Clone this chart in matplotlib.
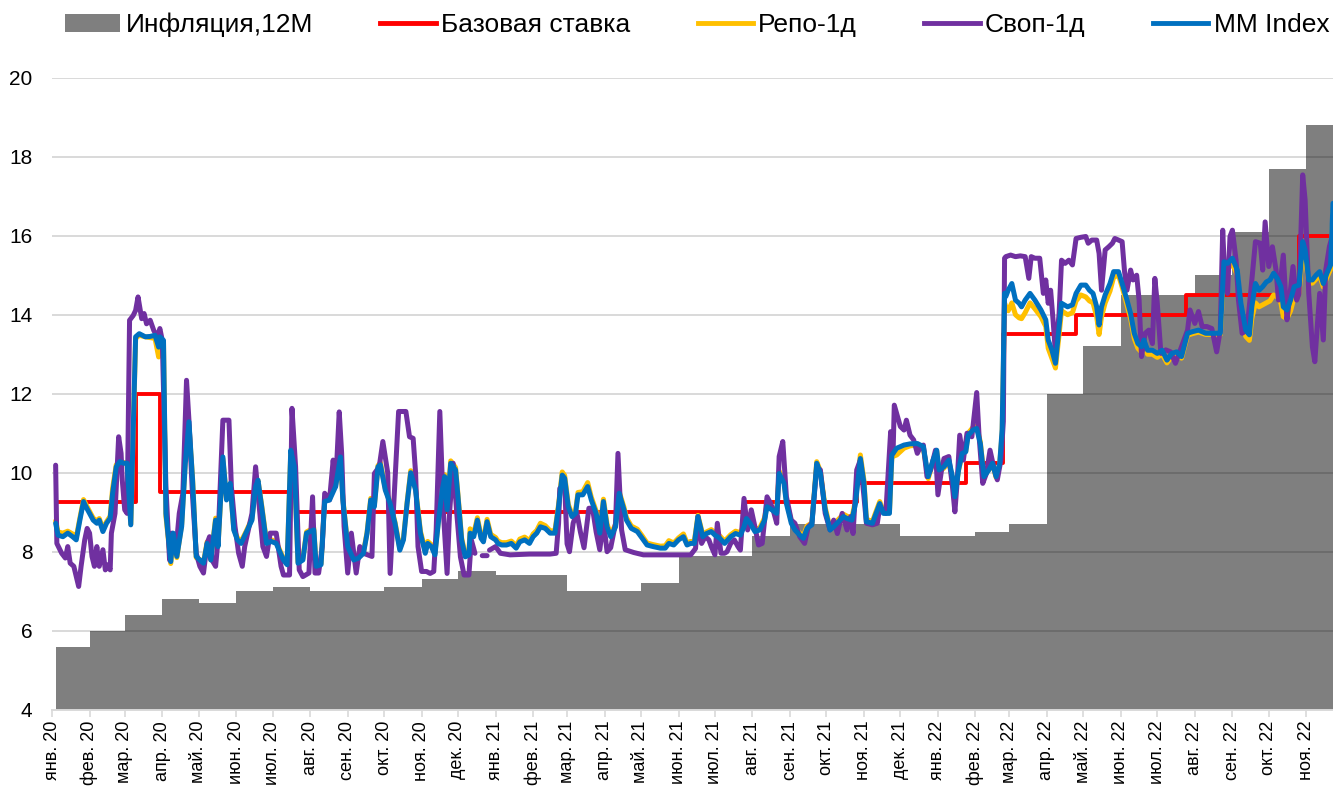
import numpy as np
import matplotlib
matplotlib.use("Agg")
import matplotlib.pyplot as plt
from matplotlib.patches import Patch
from matplotlib.lines import Line2D

plt.rcParams['font.family'] = ['Liberation Sans', 'DejaVu Sans']

# days are counted from 2020-01-01
START = np.datetime64('2020-01-01')
END_DAY = 1057

# inflation, 12M (step starts)
infl_start = ['2020-01-04', '2020-02-01', '2020-03-01', '2020-04-01', '2020-05-01', '2020-06-01',
              '2020-07-01', '2020-08-01', '2020-09-01', '2020-10-01', '2020-11-01', '2020-12-01',
              '2021-01-01', '2021-02-01', '2021-03-01', '2021-04-01', '2021-05-01', '2021-06-01',
              '2021-07-01', '2021-08-01', '2021-09-01', '2021-10-01', '2021-11-01', '2021-12-01',
              '2022-01-01', '2022-02-01', '2022-03-01', '2022-04-01', '2022-05-01', '2022-06-01',
              '2022-07-01', '2022-08-01', '2022-09-01', '2022-10-01', '2022-11-01']
infl_val = [5.6, 6.0, 6.4, 6.8, 6.7, 7.0, 7.1, 7.0, 7.0, 7.1, 7.3, 7.5,
            7.4, 7.4, 7.0, 7.0, 7.2, 7.9, 7.9, 8.4, 8.7, 8.7, 8.7, 8.4,
            8.4, 8.5, 8.7, 12.0, 13.2, 14.5, 14.5, 15.0, 16.1, 17.7, 18.8]

# base rate (step starts)
rate_start = ['2020-01-04', '2020-03-10', '2020-03-30', '2020-07-20', '2021-07-26',
              '2021-10-26', '2022-01-24', '2022-02-24', '2022-04-25', '2022-07-25', '2022-10-26']
rate_val = [9.25, 12.0, 9.5, 9.0, 9.25, 9.75, 10.25, 13.5, 14.0, 14.5, 16.0]

# MM Index and Repo-1d share the same days
mm_day = [3, 5, 9, 13, 17, 20, 23, 26, 28, 31,
          34, 37, 39, 42, 45, 48, 50, 53, 56, 59,
          62, 65, 69, 72, 77, 81, 85, 88, 89, 92,
          94, 98, 100, 103, 107, 110, 113, 116, 119, 122,
          125, 128, 131, 135, 137, 141, 144, 147, 150, 153,
          156, 160, 165, 168, 170, 173, 177, 181, 185, 191,
          194, 197, 200, 203, 207, 210, 216, 218, 222, 225,
          229, 234, 238, 240, 244, 249, 253, 257, 260, 263,
          266, 269, 271, 275, 279, 283, 287, 290, 293, 296,
          300, 304, 308, 310, 313, 316, 319, 322, 324, 326,
          329, 333, 335, 338, 341, 344, 345, 348, 351, 354,
          356, 359, 362, 366, 368, 371, 375, 379, 383, 386,
          390, 394, 397, 400, 403, 407, 411, 415, 418, 421,
          423, 426, 429, 432, 434, 438, 442, 445, 449, 452,
          455, 458, 461, 465, 468, 472, 474, 478, 483, 487,
          491, 496, 502, 506, 509, 513, 517, 521, 524, 527,
          530, 533, 537, 540, 544, 547, 551, 555, 560, 564,
          568, 571, 573, 576, 580, 584, 588, 590, 594, 598,
          600, 604, 606, 610, 613, 617, 620, 623, 627, 631,
          634, 638, 642, 645, 649, 653, 656, 660, 663, 667,
          670, 672, 677, 679, 683, 686, 691, 693, 697, 703,
          708, 714, 719, 723, 727, 730, 732, 736, 740, 743,
          745, 748, 751, 754, 756, 760, 763, 766, 769, 773,
          776, 779, 782, 784, 786, 787, 789, 792, 795, 798,
          800, 803, 807, 811, 816, 820, 822, 825, 828, 831,
          833, 838, 842, 845, 849, 853, 856, 859, 862, 864,
          866, 869, 873, 876, 880, 883, 887, 890, 893, 896,
          899, 901, 904, 908, 912, 916, 920, 924, 928, 932,
          937, 941, 946, 952, 957, 964, 967, 970, 974, 978,
          981, 985, 988, 990, 993, 996, 999, 1002, 1005, 1008,
          1011, 1014, 1016, 1019, 1022, 1025, 1029, 1032, 1034, 1037,
          1040, 1043, 1046, 1049, 1052, 1055, 1057]

mm_val = [8.72, 8.42, 8.38, 8.47, 8.38, 8.30, 8.80, 9.27, 9.14, 8.97,
          8.80, 8.72, 8.80, 8.51, 8.72, 8.85, 9.48, 10.15, 10.28, 10.24,
          10.24, 8.68, 13.44, 13.52, 13.44, 13.45, 13.48, 13.18, 13.44, 13.35,
          8.97, 7.75, 8.47, 7.88, 8.64, 10.24, 11.29, 9.81, 7.88, 7.79,
          7.71, 8.21, 7.79, 8.80, 8.13, 10.40, 9.31, 9.73, 8.55, 8.30,
          8.21, 8.47, 8.80, 9.65, 9.81, 9.14, 8.21, 8.26, 8.21, 7.79,
          7.67, 10.57, 10.15, 7.71, 7.79, 8.47, 8.55, 7.63, 7.67, 9.27,
          9.31, 9.65, 10.40, 9.31, 8.13, 7.79, 7.84, 7.96, 8.47, 9.31,
          9.14, 10.15, 10.20, 9.56, 9.22, 8.72, 8.04, 8.30, 9.22, 10.00,
          9.56, 8.47, 7.96, 8.21, 8.13, 7.92, 8.80, 9.56, 9.90, 9.06,
          10.24, 10.07, 9.39, 8.30, 7.87, 7.92, 8.47, 8.38, 8.80, 8.34,
          8.25, 8.76, 8.38, 8.30, 8.21, 8.17, 8.17, 8.21, 8.09, 8.25,
          8.30, 8.21, 8.38, 8.47, 8.63, 8.59, 8.47, 8.47, 9.14, 9.94,
          9.86, 9.14, 8.89, 8.97, 9.44, 9.44, 9.65, 9.31, 8.97, 8.47,
          9.27, 8.63, 8.38, 8.63, 9.48, 9.06, 8.80, 8.59, 8.51, 8.34,
          8.17, 8.13, 8.09, 8.09, 8.21, 8.17, 8.30, 8.38, 8.17, 8.21,
          8.21, 8.89, 8.38, 8.46, 8.51, 8.42, 8.34, 8.21, 8.38, 8.46,
          8.42, 8.63, 8.84, 8.72, 8.51, 8.55, 8.80, 9.14, 9.06, 8.97,
          9.98, 9.73, 9.22, 8.72, 8.55, 8.42, 8.34, 8.59, 8.68, 10.24,
          9.98, 9.06, 8.55, 8.63, 8.76, 8.89, 8.84, 8.80, 9.22, 10.36,
          9.73, 8.76, 8.72, 8.89, 9.22, 8.97, 8.97, 10.45, 10.62, 10.70,
          10.73, 10.74, 10.66, 9.90, 10.32, 10.57, 10.07, 10.15, 10.32, 9.90,
          9.39, 10.07, 10.49, 10.53, 10.95, 11.08, 11.12, 10.74, 9.90, 10.07,
          10.24, 9.90, 10.24, 11.10, 14.54, 14.46, 14.62, 14.79, 14.37, 14.29,
          14.20, 14.37, 14.54, 14.37, 14.12, 13.87, 13.36, 13.11, 12.77, 13.70,
          14.29, 14.20, 14.25, 14.54, 14.75, 14.75, 14.62, 14.54, 14.20, 13.74,
          14.20, 14.50, 14.79, 15.09, 15.09, 14.79, 14.37, 14.03, 13.53, 13.27,
          13.19, 13.36, 13.10, 13.10, 13.02, 13.10, 12.85, 13.02, 13.06, 12.94,
          13.53, 13.57, 13.61, 13.53, 13.53, 13.53, 15.34, 15.30, 15.43, 15.13,
          14.29, 13.61, 13.49, 14.20, 14.79, 14.62, 14.71, 14.83, 14.88, 15.05,
          14.92, 14.71, 14.20, 14.12, 14.37, 14.71, 14.75, 15.85, 15.64, 14.88,
          14.88, 15.00, 15.09, 14.79, 15.05, 15.26, 16.82]

repo_val = [8.78, 8.50, 8.47, 8.52, 8.45, 8.36, 8.85, 9.32, 9.20, 9.02,
            8.85, 8.78, 8.84, 8.58, 8.76, 8.90, 9.60, 10.20, 10.30, 10.26,
            10.24, 8.70, 13.40, 13.48, 13.44, 13.42, 13.40, 12.93, 13.30, 13.30,
            8.90, 7.70, 8.45, 7.85, 8.70, 10.30, 11.20, 9.85, 7.85, 7.80,
            7.72, 8.25, 7.80, 8.85, 8.15, 10.35, 9.35, 9.70, 8.58, 8.35,
            8.26, 8.50, 8.84, 9.68, 9.80, 9.18, 8.26, 8.30, 8.25, 7.82,
            7.70, 10.50, 10.12, 7.74, 7.82, 8.50, 8.60, 7.66, 7.70, 9.30,
            9.35, 9.70, 10.35, 9.35, 8.16, 7.82, 7.86, 7.98, 8.50, 9.35,
            9.18, 10.18, 10.25, 9.60, 9.25, 8.75, 8.08, 8.34, 9.25, 10.05,
            9.60, 8.52, 8.02, 8.26, 8.18, 7.97, 8.84, 9.60, 9.95, 9.10,
            10.30, 10.13, 9.44, 8.35, 7.92, 7.97, 8.58, 8.46, 8.86, 8.40,
            8.30, 8.82, 8.44, 8.36, 8.27, 8.23, 8.23, 8.27, 8.15, 8.32,
            8.37, 8.28, 8.45, 8.54, 8.72, 8.66, 8.53, 8.53, 9.20, 10.02,
            9.93, 9.20, 8.95, 9.03, 9.50, 9.52, 9.75, 9.38, 9.03, 8.53,
            9.33, 8.70, 8.44, 8.69, 9.52, 9.12, 8.86, 8.65, 8.57, 8.40,
            8.22, 8.18, 8.14, 8.15, 8.28, 8.22, 8.35, 8.45, 8.22, 8.26,
            8.26, 8.92, 8.43, 8.50, 8.56, 8.47, 8.40, 8.27, 8.43, 8.52,
            8.48, 8.68, 8.89, 8.78, 8.57, 8.60, 8.86, 9.20, 9.12, 9.03,
            10.04, 9.78, 9.28, 8.78, 8.60, 8.47, 8.40, 8.65, 8.73, 10.28,
            10.04, 9.12, 8.60, 8.68, 8.82, 8.95, 8.90, 8.86, 9.30, 10.45,
            9.80, 8.82, 8.77, 8.94, 9.27, 9.02, 9.00, 10.40, 10.45, 10.62,
            10.68, 10.70, 10.62, 9.85, 10.30, 10.55, 10.02, 10.12, 10.28, 9.85,
            9.35, 10.05, 10.47, 10.55, 11.00, 11.15, 11.18, 10.78, 9.92, 10.08,
            10.22, 9.88, 10.22, 11.00, 14.30, 14.20, 14.10, 14.30, 14.00, 13.92,
            13.90, 14.05, 14.30, 14.15, 13.95, 13.70, 13.15, 12.90, 12.65, 13.50,
            14.10, 14.00, 14.05, 14.35, 14.50, 14.45, 14.35, 14.30, 13.95, 13.50,
            13.95, 14.30, 14.60, 14.95, 15.00, 14.70, 14.25, 13.90, 13.40, 13.15,
            13.05, 13.20, 13.00, 13.00, 12.92, 13.00, 12.78, 12.95, 12.98, 12.90,
            13.48, 13.52, 13.56, 13.50, 13.50, 13.50, 15.20, 15.15, 15.30, 15.00,
            14.10, 13.45, 13.35, 13.90, 14.30, 14.20, 14.25, 14.30, 14.35, 14.50,
            14.45, 14.30, 13.95, 13.90, 14.10, 14.45, 14.55, 15.70, 15.50, 14.80,
            14.80, 14.90, 15.00, 14.70, 14.95, 15.15, 16.60]

# Swap-1d (nan = no quotes)
swap_day = [3, 4, 8, 11, 13, 15, 18, 20, 22, 24,
            27, 29, 31, 33, 35, 37, 39, 42, 44, 46,
            48, 49, 52, 55, 57, 58, 60, 62, 64, 67,
            69, 71, 74, 76, 78, 81, 84, 87, 89, 91,
            94, 97, 99, 102, 105, 108, 111, 113, 116, 119,
            122, 125, 128, 130, 132, 135, 137, 141, 146, 148,
            151, 154, 157, 159, 162, 165, 168, 170, 174, 177,
            180, 185, 189, 191, 196, 198, 201, 204, 207, 212,
            215, 217, 220, 223, 225, 229, 232, 234, 237, 239,
            241, 244, 247, 251, 254, 257, 264, 266, 270, 273,
            277, 279, 283, 286, 292, 295, 298, 300, 302, 305,
            309, 312, 315, 317, 320, 323, 326, 328, 331, 334,
            337, 340, 344, 346, 349, 352, 355, 359, 360, 361,
            366, 370, 378, 394, 411, 416, 418, 419, 423, 425,
            427, 430, 433, 436, 439, 443, 446, 449, 452, 455,
            458, 461, 465, 467, 470, 473, 480, 488, 510, 527,
            531, 533, 536, 539, 542, 544, 547, 549, 552, 555,
            557, 560, 563, 566, 568, 571, 574, 577, 580, 583,
            586, 590, 593, 595, 598, 600, 603, 606, 610, 613,
            617, 621, 624, 627, 631, 634, 638, 642, 645, 648,
            652, 656, 659, 661, 664, 667, 670, 672, 677, 681,
            683, 688, 692, 694, 695, 700, 703, 705, 708, 711,
            714, 716, 719, 722, 725, 729, 731, 734, 736, 740,
            743, 745, 747, 749, 752, 755, 759, 763, 765, 768,
            771, 774, 777, 780, 783, 785, 786, 787, 791, 795,
            799, 803, 806, 808, 811, 815, 818, 820, 822, 824,
            826, 828, 831, 833, 836, 839, 842, 845, 849, 853,
            855, 858, 862, 864, 866, 869, 872, 875, 877, 880,
            883, 885, 887, 890, 892, 895, 897, 899, 902, 905,
            908, 910, 912, 915, 919, 923, 927, 930, 933, 937,
            939, 943, 946, 949, 953, 957, 961, 964, 966, 968,
            970, 972, 974, 977, 979, 982, 986, 989, 993, 997,
            999, 1001, 1004, 1007, 1010, 1012, 1016, 1019, 1021, 1024,
            1027, 1029, 1032, 1034, 1037, 1040, 1042, 1044, 1046, 1049,
            1051, 1054, 1057]

swap_val = [10.19, 8.21, 7.96, 7.84, 8.13, 7.71, 7.63, 7.37, 7.12, 7.63,
            8.30, 8.59, 8.47, 7.88, 7.63, 8.13, 7.63, 8.05, 7.54, 7.67,
            7.54, 8.47, 8.97, 10.91, 10.49, 9.81, 9.06, 8.97, 13.86, 13.98,
            14.11, 14.45, 13.90, 14.03, 13.77, 13.86, 13.60, 13.44, 13.65, 13.35,
            9.65, 7.79, 8.47, 7.96, 8.97, 9.48, 12.34, 11.33, 9.39, 7.96,
            7.63, 7.46, 8.21, 8.38, 7.79, 7.63, 8.30, 11.33, 11.33, 9.65,
            8.64, 7.96, 7.63, 8.13, 8.55, 8.97, 10.15, 9.48, 8.13, 7.88,
            8.47, 8.47, 7.63, 7.41, 7.41, 11.63, 10.15, 7.54, 7.37, 7.46,
            9.39, 7.46, 7.46, 8.13, 9.48, 9.31, 10.32, 9.65, 11.54, 10.49,
            8.64, 7.46, 8.47, 7.46, 8.13, 7.96, 7.88, 9.98, 10.15, 10.79,
            10.00, 7.45, 9.81, 11.55, 11.55, 10.91, 10.87, 10.00, 8.13, 7.50,
            7.50, 7.45, 7.50, 8.55, 11.55, 8.97, 7.45, 8.97, 10.24, 8.97,
            7.87, 7.41, 7.41, 8.30, 7.96, np.nan, 7.90, 7.90, np.nan, 8.04,
            8.13, 7.96, 7.92, 7.94, 7.94, 7.96, 8.72, 9.60, 9.70, 8.20,
            8.00, 8.72, 9.00, 8.50, 8.10, 9.10, 9.10, 8.50, 8.05, 8.80,
            8.00, 8.10, 8.72, 10.49, 8.55, 8.05, 7.98, 7.92, 7.92, 7.92,
            8.08, 8.89, 8.21, 8.38, 8.30, 8.13, 7.92, 8.72, 7.96, 7.96,
            8.00, 8.21, 8.30, 8.13, 8.04, 9.35, 8.55, 9.06, 8.63, 8.17,
            8.21, 9.39, 9.22, 9.06, 8.72, 10.41, 10.79, 9.39, 8.80, 8.72,
            8.38, 8.21, 8.63, 8.72, 10.15, 10.07, 8.97, 8.55, 8.80, 8.46,
            8.97, 8.55, 8.89, 8.46, 10.07, 10.32, 9.39, 8.72, 8.68, 8.72,
            9.14, 8.97, 11.04, 10.49, 11.71, 11.17, 11.08, 11.33, 10.95, 10.83,
            10.49, 10.62, 10.70, 9.90, 10.07, 10.57, 9.44, 10.07, 10.36, 10.41,
            9.65, 9.01, 9.82, 10.95, 10.32, 11.00, 10.91, 12.03, 10.91, 9.73,
            9.98, 10.57, 10.15, 9.82, 10.32, 11.30, 15.43, 15.47, 15.51, 15.47,
            15.49, 15.47, 14.92, 15.47, 15.43, 15.43, 14.54, 14.88, 14.29, 14.62,
            13.87, 13.02, 14.03, 15.38, 15.30, 15.38, 15.26, 15.93, 15.96, 15.98,
            15.81, 15.89, 15.89, 15.55, 14.62, 15.64, 15.72, 15.81, 15.93, 15.89,
            15.85, 15.09, 14.62, 15.13, 14.88, 15.00, 14.37, 12.94, 13.53, 13.61,
            13.27, 14.92, 14.29, 13.02, 13.11, 13.06, 12.77, 13.02, 13.27, 13.61,
            14.12, 13.78, 14.08, 13.70, 13.70, 13.65, 13.06, 13.61, 16.14, 14.71,
            14.54, 15.98, 16.14, 15.38, 14.37, 13.53, 13.61, 14.54, 15.85, 15.81,
            15.13, 16.35, 15.22, 15.72, 15.13, 14.37, 15.51, 13.87, 14.37, 15.22,
            14.37, 14.54, 17.54, 16.90, 14.54, 13.19, 12.81, 13.70, 14.54, 13.36,
            15.13, 15.72, 16.06]

months_ru = ['янв.', 'фев.', 'мар.', 'апр.', 'май.', 'июн.',
             'июл.', 'авг.', 'сен.', 'окт.', 'ноя.', 'дек.']

C_INFL = '#7f7f7f'
C_RATE = '#ff0000'
C_REPO = '#ffc000'
C_SWAP = '#7030a0'
C_MM = '#0070c0'


def to_dates(days):
    return START + np.array(days, dtype=int) * np.timedelta64(1, 'D')


end_date = START + np.timedelta64(END_DAY, 'D')

infl_x = np.append(np.array(infl_start, dtype='datetime64[D]'), end_date)
infl_y = np.append(infl_val, infl_val[-1])
rate_x = np.append(np.array(rate_start, dtype='datetime64[D]'), end_date)
rate_y = np.append(rate_val, rate_val[-1])

fig = plt.figure(figsize=(13.33, 7.89), dpi=100)
ax = fig.add_axes([52 / 1333, 0.1005, 1 - 52 / 1333, 0.801])

ax.fill_between(infl_x, 4, infl_y, step='post', color=C_INFL, lw=0, zorder=1)
for yv in range(6, 21, 2):
    ax.axhline(yv, color=(0, 0, 0, 0.15), lw=1.4, zorder=1.5)

kw = dict(solid_joinstyle='round', solid_capstyle='round')
ax.step(rate_x, rate_y, where='post', color=C_RATE, lw=2.8, zorder=2, **kw)
ax.plot(to_dates(mm_day), repo_val, color=C_REPO, lw=3.6, zorder=3, **kw)
ax.plot(to_dates(swap_day), swap_val, color=C_SWAP, lw=3.6, zorder=4, **kw)
ax.plot(to_dates(mm_day), mm_val, color=C_MM, lw=3.6, zorder=5, **kw)

ax.set_ylim(4, 20)
ax.set_yticks(range(4, 21, 2))
ax.set_xlim(START, end_date)

ticks = np.arange(np.datetime64('2020-01'), np.datetime64('2022-12'), dtype='datetime64[M]')
ax.set_xticks(ticks.astype('datetime64[D]'))
ax.set_xticklabels([f"{months_ru[int(str(t)[5:7]) - 1]} {str(t)[2:4]}" for t in ticks],
                   rotation=90, fontsize=13)

for s in ['left', 'right', 'top']:
    ax.spines[s].set_visible(False)
ax.spines['bottom'].set_color('#d9d9d9')
ax.spines['bottom'].set_linewidth(1.4)
ax.spines['bottom'].set_zorder(6)
ax.tick_params(axis='y', length=0, pad=14, labelsize=15)
ax.tick_params(axis='x', length=5, color='#d9d9d9', width=1.2, pad=3)

handles = [Patch(facecolor=C_INFL, edgecolor='none'),
           Line2D([], [], color=C_RATE, lw=3.5),
           Line2D([], [], color=C_REPO, lw=3.5),
           Line2D([], [], color=C_SWAP, lw=3.5),
           Line2D([], [], color=C_MM, lw=3.5)]
labels = ['Инфляция,12М', 'Базовая ставка', 'Репо-1д', 'Своп-1д', 'MM Index']
fig.legend(handles, labels, loc='center', bbox_to_anchor=(0.523, 0.968), ncol=5,
           frameon=False, fontsize=19, handlelength=2.1, handletextpad=0.2,
           columnspacing=2.55)

fig.savefig('out.png', dpi=100)
